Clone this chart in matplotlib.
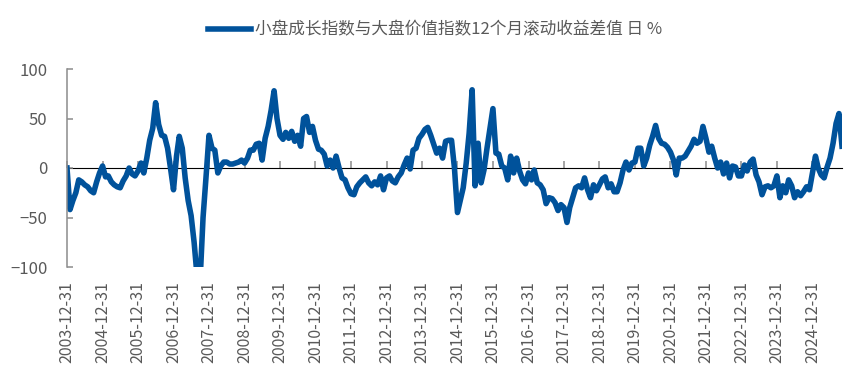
import pandas as pd
import matplotlib.pyplot as plt

plt.rcParams['font.family'] = ['Noto Sans CJK SC', 'DejaVu Sans']

# month-end values, 2003-12 .. 2025-10
diff = [0, -42, -33, -25, -12, -14, -17, -19, -23, -25,
        -14, -5, 2, -9, -8, -14, -17, -19, -20, -13,
        -8, 0, -6, -8, -3, 5, -5, 10, 28, 40,
        66, 44, 33, 32, 20, 0, -22, 12, 32, 20,
        -10, -33, -48, -75, -110, -115, -50, -10, 33, 20,
        18, -5, 2, 6, 6, 4, 4, 5, 6, 8,
        5, 10, 18, 18, 24, 25, 8, 30, 42, 58,
        78, 50, 33, 29, 36, 30, 37, 27, 33, 22,
        50, 52, 36, 42, 28, 19, 18, 14, 2, 8,
        0, 12, 0, -10, -12, -20, -26, -27, -19, -15,
        -12, -9, -15, -18, -14, -17, -8, -22, -10, -8,
        -13, -15, -9, -5, 3, 10, -1, 18, 20, 30,
        34, 39, 41, 33, 24, 15, 20, 10, 27, 28,
        28, 0, -45, -32, -20, 5, 35, 79, -18, 25,
        -15, -2, 20, 40, 60, 15, 14, 2, 0, -12,
        12, -5, 10, -3, -12, -16, -5, -12, -2, -15,
        -17, -22, -36, -30, -31, -35, -43, -37, -40, -55,
        -40, -30, -20, -18, -20, -10, -22, -30, -17, -23,
        -17, -11, -9, -20, -16, -24, -24, -15, -2, 6,
        -2, 5, 6, 20, 20, 2, 10, 23, 32, 43,
        30, 25, 24, 21, 16, 8, -7, 10, 10, 12,
        17, 22, 29, 25, 27, 42, 30, 16, 22, 10,
        0, 6, -6, 5, -10, 2, 1, -8, -8, 3,
        -3, 6, 9, -7, -14, -27, -19, -18, -20, -18,
        -8, -30, -18, -25, -12, -18, -30, -24, -28, -24,
        -19, -22, -5, 12, 0, -7, -10, 1, 10, 25,
        45, 55, 22]
dates = pd.date_range('2003-12-31', periods=len(diff), freq='ME')
year_ends = pd.date_range('2003-12-31', '2024-12-31', freq='YE')
label = '小盘成长指数与大盘价值指数12个月滚动收益差值 日 %'

grey = '#8C8C8C'
txt = '#595959'

fig = plt.figure(figsize=(8.66, 3.87), dpi=100)
ax = fig.add_axes([67/866, 1-267/387, (842-67)/866, (267-69)/387])

ax.plot(dates, diff, color='#00529B', lw=4.0, solid_joinstyle='round', label=label)

ax.set_ylim(-100, 100)
ax.set_yticks([-100, -50, 0, 50, 100])
ax.set_xlim(dates[0], dates[-1])

for s in ['top', 'right', 'bottom']:
    ax.spines[s].set_visible(False)
ax.spines['left'].set_color(grey)
ax.spines['left'].set_linewidth(1.1)
ax.tick_params(axis='y', direction='in', length=4, width=1.1, color=grey,
               labelcolor=txt, labelsize=12, pad=14)

# labels at the bottom, tick marks on the zero line
ax.set_xticks(year_ends)
ax.set_xticklabels([d.strftime('%Y-%m-%d') for d in year_ends], rotation=90)
ax.tick_params(axis='x', length=0, labelcolor=txt, labelsize=11.5, pad=10)

sec = ax.secondary_xaxis(0.5)
sec.set_xticks(year_ends, labels=[''] * len(year_ends))
sec.tick_params(axis='x', direction='out', length=5, width=1.1, color=grey)
sec.spines['bottom'].set_color(grey)
sec.spines['bottom'].set_linewidth(1.6)

fig.legend(loc='center', bbox_to_anchor=(0.502, 0.922), frameon=False,
           fontsize=12, labelcolor=txt, handlelength=2.6, handletextpad=0.2)

fig.savefig('out.png', dpi=100)
